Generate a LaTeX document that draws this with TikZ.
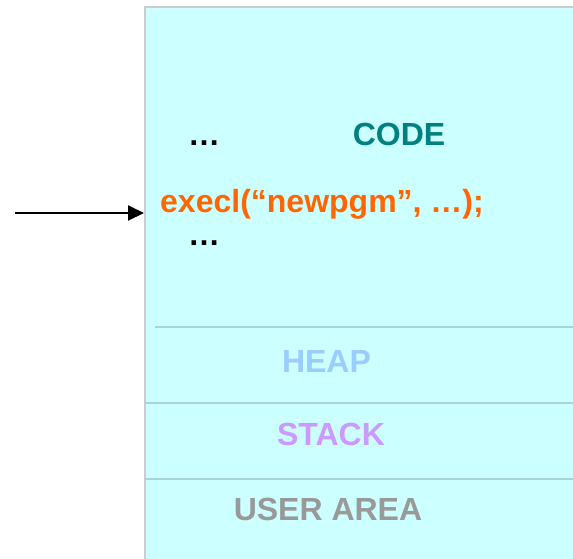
\documentclass[tikz,border=0pt]{standalone}
\usepackage{fontspec}
\setmainfont{Liberation Sans}
\usetikzlibrary{arrows.meta}
\definecolor{memfill}{HTML}{CCFFFF}
\definecolor{memedge}{HTML}{CCCCCC}
\definecolor{divline}{HTML}{A8D4D4}
\definecolor{codecol}{HTML}{008080}
\definecolor{execcol}{HTML}{FF6600}
\definecolor{heapcol}{HTML}{99CCFF}
\definecolor{stackcol}{HTML}{CC99FF}
\definecolor{usercol}{HTML}{999999}
\tikzset{
  lbl/.style={font=\fontsize{32}{36}\selectfont\bfseries, inner sep=0pt, anchor=base},
  divider/.style={draw=divline, line width=1.2pt},
  pointer/.style={draw=black, line width=2pt, -{Triangle[length=16pt,width=15pt]}}
}
\begin{document}
\begin{tikzpicture}[x=1pt,y=1pt]
\useasboundingbox (0,0) rectangle (573,-558);
% memory block
\fill[memfill] (145,-7) rectangle (575,-560);
\draw[memedge, line width=1.5pt] (145,-560) -- (145,-7) -- (575,-7);
% dividers
\draw[divider] (155,-327) -- (575,-327);
\draw[divider] (145,-403) -- (575,-403);
\draw[divider] (145,-479) -- (575,-479);
% texts
\node[lbl] (dots1) at (204,-145) {…};
\node[lbl, text=codecol] (code) at (399,-145) {CODE};
\node[lbl, text=execcol, anchor=base west] (execl) at (160,-212) {execl(“newpgm”, …);};
\node[lbl] (dots2) at (204,-245) {…};
\node[lbl, text=heapcol] (heap) at (326.5,-372) {HEAP};
\node[lbl, text=stackcol] (stack) at (331,-445) {STACK};
\node[lbl, text=usercol] (user) at (328,-520) {USER AREA};
% pointer
\coordinate (pstart) at (15,-213);
\coordinate (pend) at (144,-213);
\draw[pointer] (pstart) -- (pend);
\end{tikzpicture}
\end{document}
